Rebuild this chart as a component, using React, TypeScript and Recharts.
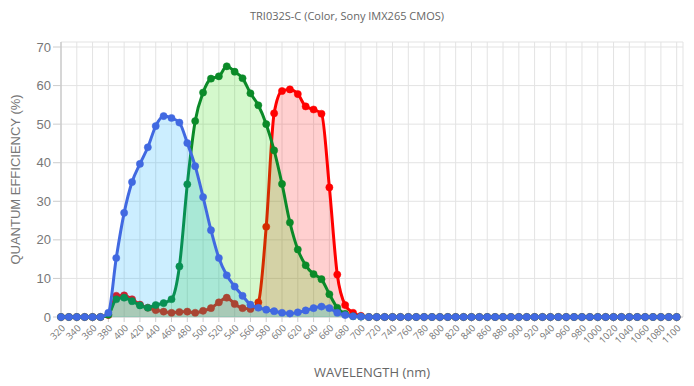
import React, { useMemo } from 'react';
import { AreaChart, Area, XAxis, YAxis, CartesianGrid, Label } from 'recharts';

// wavelength in nm, one sample every 10 nm
const wavelengths = [
    320, 330, 340, 350, 360, 370, 380, 390, 400, 410, 420, 430, 440, 450, 460, 470, 480, 490, 500, 510,
    520, 530, 540, 550, 560, 570, 580, 590, 600, 610, 620, 630, 640, 650, 660, 670, 680, 690, 700, 710,
    720, 730, 740, 750, 760, 770, 780, 790, 800, 810, 820, 830, 840, 850, 860, 870, 880, 890, 900, 910,
    920, 930, 940, 950, 960, 970, 980, 990, 1000, 1010, 1020, 1030, 1040, 1050, 1060, 1070, 1080, 1090, 1100
];

// quantum efficiency (%) per channel
const redQE = [
    0, 0, 0, 0, 0, 0, 0.5, 5.5, 5.6, 4.6, 3.2, 2.4, 1.8, 1.4, 1.1, 1.3, 1.4, 1.1, 1.6, 2.3,
    3.8, 5.0, 3.4, 2.3, 2.1, 3.8, 23.4, 52.8, 58.6, 59.0, 57.8, 54.6, 53.8, 52.7, 33.6, 11.0, 3.1, 1.1, 0.3, 0,
    0, 0, 0, 0, 0, 0, 0, 0, 0, 0, 0, 0, 0, 0, 0, 0, 0, 0, 0, 0,
    0, 0, 0, 0, 0, 0, 0, 0, 0, 0, 0, 0, 0, 0, 0, 0, 0, 0, 0
];
const greenQE = [
    0, 0, 0, 0, 0, 0, 0.6, 4.6, 5.0, 4.1, 3.0, 2.4, 3.1, 3.6, 4.6, 13.1, 34.4, 50.8, 58.2, 61.8,
    62.4, 65.0, 63.6, 61.9, 58.0, 54.9, 50.0, 43.2, 34.5, 24.5, 17.5, 13.4, 11.1, 9.8, 5.9, 2.4, 0.8, 0.2, 0.1, 0,
    0, 0, 0, 0, 0, 0, 0, 0, 0, 0, 0, 0, 0, 0, 0, 0, 0, 0, 0, 0,
    0, 0, 0, 0, 0, 0, 0, 0, 0, 0, 0, 0, 0, 0, 0, 0, 0, 0, 0
];
const blueQE = [
    0, 0, 0, 0, 0, 0, 1.1, 15.3, 27.0, 35.0, 39.7, 44.0, 49.5, 52.1, 51.6, 50.4, 45.1, 39.1, 31.1, 22.5,
    15.3, 10.8, 7.9, 5.5, 3.2, 2.4, 1.9, 1.5, 1.1, 0.9, 1.2, 1.7, 2.3, 2.7, 2.3, 1.1, 0.5, 0.2, 0.1, 0,
    0, 0, 0, 0, 0, 0, 0, 0, 0, 0, 0, 0, 0, 0, 0, 0, 0, 0, 0, 0,
    0, 0, 0, 0, 0, 0, 0, 0, 0, 0, 0, 0, 0, 0, 0, 0, 0, 0, 0
];

const xTicks = [
    320, 340, 360, 380, 400, 420, 440, 460, 480, 500, 520, 540, 560, 580, 600, 620, 640, 660, 680, 700,
    720, 740, 760, 780, 800, 820, 840, 860, 880, 900, 920, 940, 960, 980, 1000, 1020, 1040, 1060, 1080, 1100
];
const yTicks = [0, 10, 20, 30, 40, 50, 60, 70];

const TITLE = 'TRI032S-C (Color, Sony IMX265 CMOS)';
const labelFont = '"Open Sans", sans-serif';
const axisFont = '"Liberation Sans", Arial, sans-serif';

const W = 694;
const H = 386;
const X_DOMAIN: [number, number] = [320, 1108];
const Y_DOMAIN: [number, number] = [0, 71.3];

// each channel gets its own svg so later fills really cover earlier lines and dots
const channels = [
    { key: 'red', line: '#ff0000', fill: '#ff1414' },
    { key: 'green', line: '#0b8a28', fill: '#28dc00' },
    { key: 'blue', line: '#4169e1', fill: '#00aaff' }
];

const renderSeries = (s: typeof channels[number]) => (
    <Area
        key={s.key}
        type="monotone"
        dataKey={s.key}
        stroke={s.line}
        strokeWidth={3}
        fill={s.fill}
        fillOpacity={0.2}
        dot={{ r: 3.6, fill: s.line, fillOpacity: 1, stroke: s.line, strokeWidth: 0.5 }}
        activeDot={false}
        isAnimationActive={false}
    />
);

const layer: React.CSSProperties = { position: 'absolute', left: 0, top: 0 };

const App: React.FC = () => {
    const data = useMemo(() => wavelengths.map((wl, i) => ({
        wl,
        red: redQE[i],
        green: greenQE[i],
        blue: blueQE[i]
    })), []);

    return (
        <div style={{ position: 'absolute', left: 0, top: 0, width: W, height: H, background: '#fff' }}>
            <div
                style={{
                    position: 'absolute',
                    top: 8,
                    left: 0,
                    width: W,
                    textAlign: 'center',
                    fontFamily: labelFont,
                    fontSize: 11,
                    color: '#666'
                }}
            >
                {TITLE}
            </div>

            {/* base layer: grid, axes and the red channel */}
            <div style={layer}>
                <AreaChart width={W} height={H} data={data} margin={{ top: 42, right: 11, bottom: 0, left: 0 }}>
                    <CartesianGrid stroke="#e3e3e3" />
                    <XAxis
                        dataKey="wl"
                        type="number"
                        domain={X_DOMAIN}
                        ticks={xTicks}
                        interval={0}
                        height={69}
                        angle={-45}
                        textAnchor="end"
                        tick={{ fill: '#777', fontSize: 9.5, fontFamily: labelFont }}
                        tickSize={5}
                        tickLine={{ stroke: '#ccc' }}
                        axisLine={{ stroke: '#ccc' }}
                    >
                        <Label
                            value="WAVELENGTH (nm)"
                            position="insideBottom"
                            offset={9}
                            style={{ fill: '#666', fontSize: 13, fontFamily: labelFont }}
                        />
                    </XAxis>
                    <YAxis
                        type="number"
                        domain={Y_DOMAIN}
                        ticks={yTicks}
                        width={61}
                        tickSize={8}
                        tickMargin={2}
                        tick={{ fill: '#777', fontSize: 13, fontFamily: axisFont }}
                        tickLine={{ stroke: '#ccc' }}
                        axisLine={{ stroke: '#bbb' }}
                    >
                        <Label
                            content={({ viewBox }: any) => {
                                const cy = viewBox.y + viewBox.height / 2;
                                return (
                                    <text
                                        x={20}
                                        y={cy}
                                        transform={`rotate(-90 20 ${cy})`}
                                        textAnchor="middle"
                                        fill="#777"
                                        fontSize={13}
                                        fontFamily={axisFont}
                                    >
                                        QUANTUM EFFICIENCY (%)
                                    </text>
                                );
                            }}
                        />
                    </YAxis>
                    {renderSeries(channels[0])}
                </AreaChart>
            </div>

            {/* overlays for green then blue, same plot box */}
            {channels.slice(1).map(s => (
                <div key={s.key} style={layer}>
                    <AreaChart width={W} height={H} data={data} margin={{ top: 42, right: 11, bottom: 69, left: 61 }}>
                        <XAxis dataKey="wl" type="number" domain={X_DOMAIN} hide />
                        <YAxis type="number" domain={Y_DOMAIN} hide />
                        {renderSeries(s)}
                    </AreaChart>
                </div>
            ))}
        </div>
    );
};

export default App;
